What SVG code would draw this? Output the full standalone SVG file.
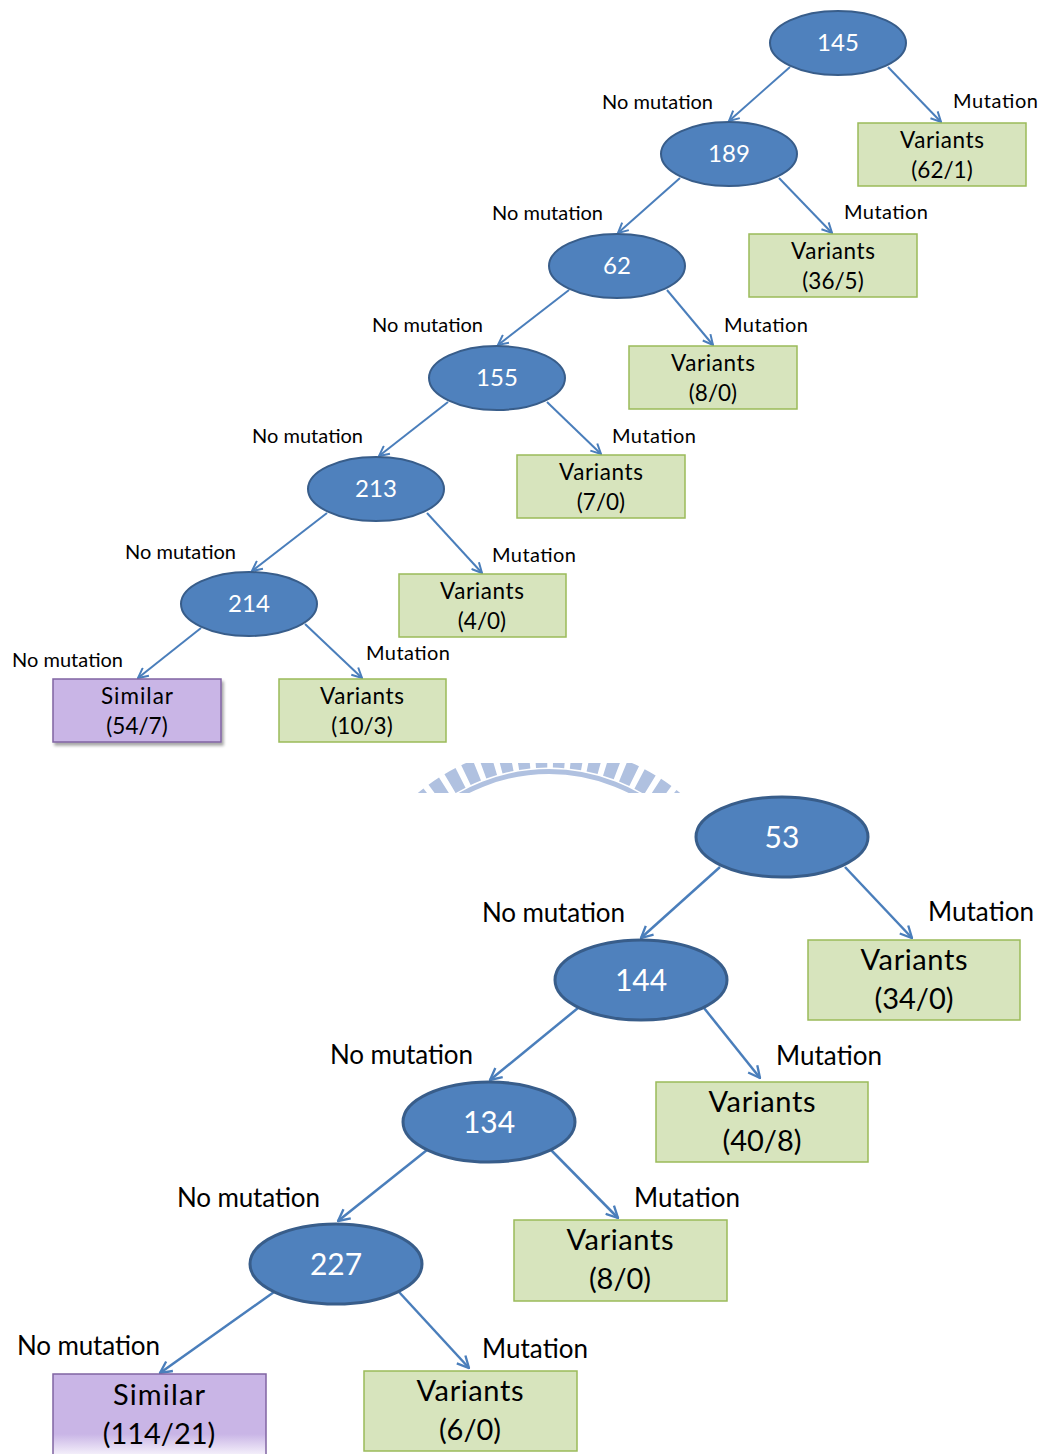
<svg xmlns="http://www.w3.org/2000/svg" width="1042" height="1454" viewBox="0 0 1042 1454">
<defs>
<style>
.nd{fill:#4f81bd;stroke:#385d8a;stroke-width:2}
.nd2{fill:#4f81bd;stroke:#385d8a;stroke-width:3}
.nt{font-family:Lato,"Liberation Sans",sans-serif;font-size:24px;fill:#ffffff;text-anchor:middle}
.nt2{font-family:Lato,"Liberation Sans",sans-serif;font-size:30px;fill:#ffffff;text-anchor:middle}
.vb{fill:#d7e4bd;stroke:#9bbb59;stroke-width:1.5}
.sb{fill:#c9b5e6;stroke:#8064a2;stroke-width:1.5}
.bt{font-family:Lato,"Liberation Sans",sans-serif;font-size:22.5px;fill:#000000;text-anchor:middle}
.bt2{font-family:Lato,"Liberation Sans",sans-serif;font-size:29px;fill:#000000;text-anchor:middle}
.lb{font-family:Lato,"Liberation Sans",sans-serif;font-size:20px;fill:#000000}
.lb2{font-family:Lato,"Liberation Sans",sans-serif;font-size:26px;fill:#000000}
.e{stroke:#4a7ebb;stroke-width:2;fill:none;marker-end:url(#ah)}
.e2{stroke:#4a7ebb;stroke-width:2.5;fill:none;marker-end:url(#ah2)}
</style>
<marker id="ah" viewBox="0 0 12 12" refX="11" refY="6" markerWidth="12" markerHeight="12" markerUnits="userSpaceOnUse" orient="auto">
<path d="M1,1 L11,6 L1,11" fill="none" stroke="#4a7ebb" stroke-width="2"/>
</marker>
<marker id="ah2" viewBox="0 0 12 12" refX="11" refY="6" markerWidth="14" markerHeight="14" markerUnits="userSpaceOnUse" orient="auto">
<path d="M1,1 L11,6 L1,11" fill="none" stroke="#4a7ebb" stroke-width="2"/>
</marker>
<filter id="sh" x="-10%" y="-10%" width="130%" height="140%">
<feDropShadow dx="2" dy="3" stdDeviation="1.5" flood-color="#000" flood-opacity="0.35"/>
</filter>
<linearGradient id="pg" x1="0" y1="1374" x2="0" y2="1454" gradientUnits="userSpaceOnUse">
<stop offset="0" stop-color="#c9b5e6"/>
<stop offset="0.75" stop-color="#c9b5e6"/>
<stop offset="1" stop-color="#f3eefa"/>
</linearGradient>
<clipPath id="wc"><rect x="400" y="763" width="300" height="30"/></clipPath>
</defs>
<rect width="1042" height="1454" fill="#ffffff"/>

<!-- watermark fragment -->
<g clip-path="url(#wc)" fill="none" stroke="#b0c1e0">
<circle cx="549" cy="950.5" r="194" stroke-width="22" stroke-dasharray="12 6"/>
<circle cx="549" cy="950.5" r="179" stroke-width="5"/>
</g>

<g id="connectors">
<line class="e" x1="790" y1="67" x2="729" y2="121"/>
<line class="e" x1="888" y1="67" x2="941" y2="122"/>
<line class="e" x1="680" y1="178" x2="618" y2="233"/>
<line class="e" x1="779" y1="178" x2="832" y2="233"/>
<line class="e" x1="569" y1="290" x2="498" y2="345"/>
<line class="e" x1="667" y1="290" x2="713" y2="345"/>
<line class="e" x1="448" y1="402" x2="379" y2="456"/>
<line class="e" x1="547" y1="402" x2="601" y2="454"/>
<line class="e" x1="327" y1="513" x2="252" y2="571"/>
<line class="e" x1="427" y1="513" x2="482" y2="573"/>
<line class="e" x1="201" y1="628" x2="138" y2="678"/>
<line class="e" x1="305" y1="624" x2="362" y2="678"/>

<line class="e2" x1="720" y1="867" x2="641" y2="938"/>
<line class="e2" x1="845" y1="867" x2="912" y2="938"/>
<line class="e2" x1="578" y1="1008" x2="490" y2="1080"/>
<line class="e2" x1="704" y1="1008" x2="760" y2="1078"/>
<line class="e2" x1="427" y1="1150" x2="338" y2="1221"/>
<line class="e2" x1="551" y1="1150" x2="618" y2="1218"/>
<line class="e2" x1="274" y1="1292" x2="160" y2="1373"/>
<line class="e2" x1="399" y1="1292" x2="469" y2="1368"/>
</g>

<g id="edge-labels">
<text class="lb" x="602" y="109" textLength="111">No mutation</text>
<text class="lb" x="953" y="108" textLength="85">Mutation</text>
<text class="lb" x="492" y="220" textLength="111">No mutation</text>
<text class="lb" x="844" y="219" textLength="84">Mutation</text>
<text class="lb" x="372" y="332" textLength="111">No mutation</text>
<text class="lb" x="724" y="332" textLength="84">Mutation</text>
<text class="lb" x="252" y="443" textLength="111">No mutation</text>
<text class="lb" x="612" y="443" textLength="84">Mutation</text>
<text class="lb" x="125" y="559" textLength="111">No mutation</text>
<text class="lb" x="492" y="562" textLength="84">Mutation</text>
<text class="lb" x="12" y="667" textLength="111">No mutation</text>
<text class="lb" x="366" y="660" textLength="84">Mutation</text>

<text class="lb2" x="482" y="922" textLength="143">No mutation</text>
<text class="lb2" x="928" y="921" textLength="106">Mutation</text>
<text class="lb2" x="330" y="1064" textLength="143">No mutation</text>
<text class="lb2" x="776" y="1065" textLength="106">Mutation</text>
<text class="lb2" x="177" y="1207" textLength="143">No mutation</text>
<text class="lb2" x="634" y="1207" textLength="106">Mutation</text>
<text class="lb2" x="17" y="1355" textLength="143">No mutation</text>
<text class="lb2" x="482" y="1358" textLength="106">Mutation</text>
</g>

<!-- top tree nodes -->
<g id="n145"><ellipse class="nd" cx="838" cy="43" rx="68" ry="32"/><text class="nt" x="838" y="51">145</text></g>
<g id="n189"><ellipse class="nd" cx="729" cy="154" rx="68" ry="32"/><text class="nt" x="729" y="162">189</text></g>
<g id="n62"><ellipse class="nd" cx="617" cy="266" rx="68" ry="32"/><text class="nt" x="617" y="274">62</text></g>
<g id="n155"><ellipse class="nd" cx="497" cy="378" rx="68" ry="32"/><text class="nt" x="497" y="386">155</text></g>
<g id="n213"><ellipse class="nd" cx="376" cy="489" rx="68" ry="32"/><text class="nt" x="376" y="497">213</text></g>
<g id="n214"><ellipse class="nd" cx="249" cy="604" rx="68" ry="32"/><text class="nt" x="249" y="612">214</text></g>

<g id="v62_1"><rect class="vb" x="858" y="123" width="168" height="63"/><text class="bt" x="942" y="148" textLength="84">Variants</text><text class="bt" x="942" y="178">(62/1)</text></g>
<g id="v36_5"><rect class="vb" x="749" y="234" width="168" height="63"/><text class="bt" x="833" y="259" textLength="84">Variants</text><text class="bt" x="833" y="289">(36/5)</text></g>
<g id="v8_0a"><rect class="vb" x="629" y="346" width="168" height="63"/><text class="bt" x="713" y="371" textLength="84">Variants</text><text class="bt" x="713" y="401">(8/0)</text></g>
<g id="v7_0"><rect class="vb" x="517" y="455" width="168" height="63"/><text class="bt" x="601" y="480" textLength="84">Variants</text><text class="bt" x="601" y="510">(7/0)</text></g>
<g id="v4_0"><rect class="vb" x="399" y="574" width="167" height="63"/><text class="bt" x="482" y="599" textLength="84">Variants</text><text class="bt" x="482" y="629">(4/0)</text></g>
<g id="s54_7"><rect class="sb" x="53" y="679" width="168" height="63" filter="url(#sh)"/><text class="bt" x="137" y="704" textLength="72">Similar</text><text class="bt" x="137" y="734">(54/7)</text></g>
<g id="v10_3"><rect class="vb" x="279" y="679" width="167" height="63"/><text class="bt" x="362" y="704" textLength="84">Variants</text><text class="bt" x="362" y="734">(10/3)</text></g>

<!-- bottom tree nodes -->
<g id="n53"><ellipse class="nd2" cx="782" cy="837" rx="86" ry="40"/><text class="nt2" x="782" y="848">53</text></g>
<g id="n144"><ellipse class="nd2" cx="641" cy="980" rx="86" ry="40"/><text class="nt2" x="641" y="991">144</text></g>
<g id="n134"><ellipse class="nd2" cx="489" cy="1122" rx="86" ry="40"/><text class="nt2" x="489" y="1133">134</text></g>
<g id="n227"><ellipse class="nd2" cx="336" cy="1264" rx="86" ry="40"/><text class="nt2" x="336" y="1275">227</text></g>

<g id="v34_0"><rect class="vb" x="808" y="940" width="212" height="80"/><text class="bt2" x="914" y="970" textLength="107">Variants</text><text class="bt2" x="914" y="1009">(34/0)</text></g>
<g id="v40_8"><rect class="vb" x="656" y="1082" width="212" height="80"/><text class="bt2" x="762" y="1112" textLength="107">Variants</text><text class="bt2" x="762" y="1151">(40/8)</text></g>
<g id="v8_0b"><rect class="vb" x="514" y="1220" width="213" height="81"/><text class="bt2" x="620" y="1250" textLength="107">Variants</text><text class="bt2" x="620" y="1289">(8/0)</text></g>
<g id="s114_21"><rect x="53" y="1374" width="213" height="90" fill="url(#pg)" stroke="#8064a2" stroke-width="1.5"/><text class="bt2" x="159" y="1405" textLength="92">Similar</text><text class="bt2" x="159" y="1444">(114/21)</text></g>
<g id="v6_0"><rect class="vb" x="364" y="1371" width="213" height="80"/><text class="bt2" x="470" y="1401" textLength="107">Variants</text><text class="bt2" x="470" y="1440">(6/0)</text></g>
</svg>
